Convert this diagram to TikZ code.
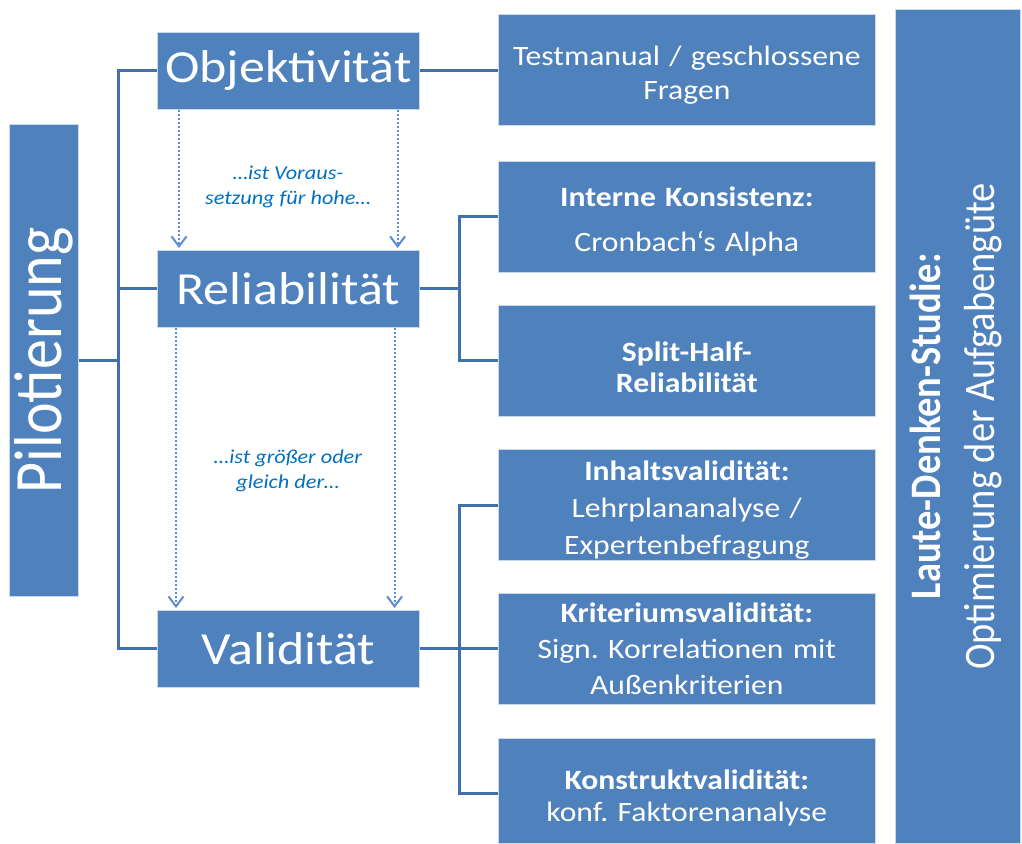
\documentclass[tikz,border=0pt]{standalone}
\usepackage{fontspec}
\setmainfont{Carlito}[FakeStretch=1.13]
\newfontfamily\uprightfont{Carlito}
\usetikzlibrary{arrows.meta}
\definecolor{boxblue}{HTML}{4F81BD}
\definecolor{linkblue}{HTML}{4270AA}
\definecolor{dotblue}{HTML}{5A8DD6}
\definecolor{noteblue}{HTML}{0070C0}
\frenchspacing
\begin{document}
\begin{tikzpicture}[x=1pt,y=-1pt,
  box/.style={fill=boxblue, draw=white!70!boxblue, line width=0.6pt, text=white,
    inner sep=0pt, align=center, anchor=north west},
  mainbox/.style={box, minimum width=262pt, minimum height=77pt,
    font=\fontsize{46}{50}\selectfont},
  detailbox/.style={box, minimum width=377pt, minimum height=111pt,
    text width=370pt, font=\fontsize{28}{36}\selectfont},
  link/.style={draw=linkblue, line width=3pt},
  implies/.style={draw=dotblue, line width=2pt, dotted, shorten >=2pt,
    -{Straight Barb[length=10pt,width=15pt,line width=2pt]}},
  note/.style={text=noteblue, align=center, font=\fontsize{19.7}{25.5}\selectfont\itshape}
]
\useasboundingbox (0,0) rectangle (1022,843);

% outer stages
\node[box, minimum width=69pt, minimum height=472pt] (pilot) at (9,124)
  {\rotatebox{90}{\scalebox{1}[1.13]{\uprightfont\fontsize{60}{62}\selectfont Pilotierung}}};
\node[box, minimum width=125pt, minimum height=834pt] (laut) at (895,9)
  {\rotatebox{90}{\scalebox{1}[1.13]{\uprightfont\fontsize{38.5}{44}\selectfont\begin{tabular}{@{}c@{}}\bfseries Laute-Denken-Studie:\\[4pt] Optimierung der Aufgabengüte\end{tabular}}}};

% quality criteria
\node[mainbox] (obj) at (157,32) {Objektivität};
\node[mainbox] (rel) at (157,250) {Reliabilität};
\node[mainbox] (val) at (157,610) {Validität};

% operationalisations
\node[detailbox] (test) at (498,14) {\rule{0pt}{30pt}Testmanual / geschlossene\\[-2pt]Fragen};
\node[detailbox] (ik) at (498,161) {\rule{0pt}{28pt}\textbf{Interne Konsistenz:}\\[9pt]Cronbach‘s Alpha};
\node[detailbox] (sh) at (498,305) {\rule{0pt}{32pt}\textbf{Split-Half-}\\[-5pt]\textbf{Reliabilität}};
\node[detailbox] (iv) at (498,449) {\rule{0pt}{30pt}\textbf{Inhaltsvalidität:}\\[1pt]Lehrplananalyse /\\[1pt]Expertenbefragung};
\node[detailbox] (kv) at (498,593) {\textbf{Kriteriumsvalidität:}\\Sign. Korrelationen mit\\Außenkriterien};
\node[detailbox, minimum height=105pt] (ktv) at (498,738) {\rule{0pt}{34pt}\textbf{Konstruktvalidität:}\\[-4pt]konf. Faktorenanalyse};

% bracket from Pilotierung to the three criteria
\coordinate (lb) at (118,0);
\draw[link] (pilot.east) -- (pilot.east -| lb);
\draw[link] (obj.west) -- (obj.west -| lb) -- (val.west -| lb) -- (val.west);
\draw[link] (rel.west) -- (rel.west -| lb);

% Objektivität to its operationalisation
\draw[link] (obj.east) -- (obj.east -| test.west);

% Reliabilität bracket
\coordinate (rb) at (459,0);
\coordinate (rt) at (0,216);
\coordinate (rd) at (0,360);
\draw[link] (rel.east) -- (rel.east -| rb);
\draw[link] (ik.west |- rt) -- (rb |- rt) -- (rb |- rd) -- (sh.west |- rd);

% Validität bracket
\coordinate (vt) at (0,505);
\coordinate (vd) at (0,793);
\draw[link] (val.east) -- (kv.west |- val.east);
\draw[link] (iv.west |- vt) -- (rb |- vt) -- (rb |- vd) -- (ktv.west |- vd);

% dependency arrows between the criteria
\draw[implies] ([xshift=22pt]obj.south west) -- ([xshift=22pt]rel.north west);
\draw[implies] ([xshift=-22pt]obj.south east) -- ([xshift=-22pt]rel.north east);
\draw[implies] ([xshift=19pt]rel.south west) -- ([xshift=19pt]val.north west);
\draw[implies] ([xshift=-25pt]rel.south east) -- ([xshift=-25pt]val.north east);

\node[note] (n1) at (288,187) {…ist Voraus-\\setzung für hohe…};
\node[note] (n2) at (288,471) {…ist größer oder\\gleich der…};
\end{tikzpicture}
\end{document}
